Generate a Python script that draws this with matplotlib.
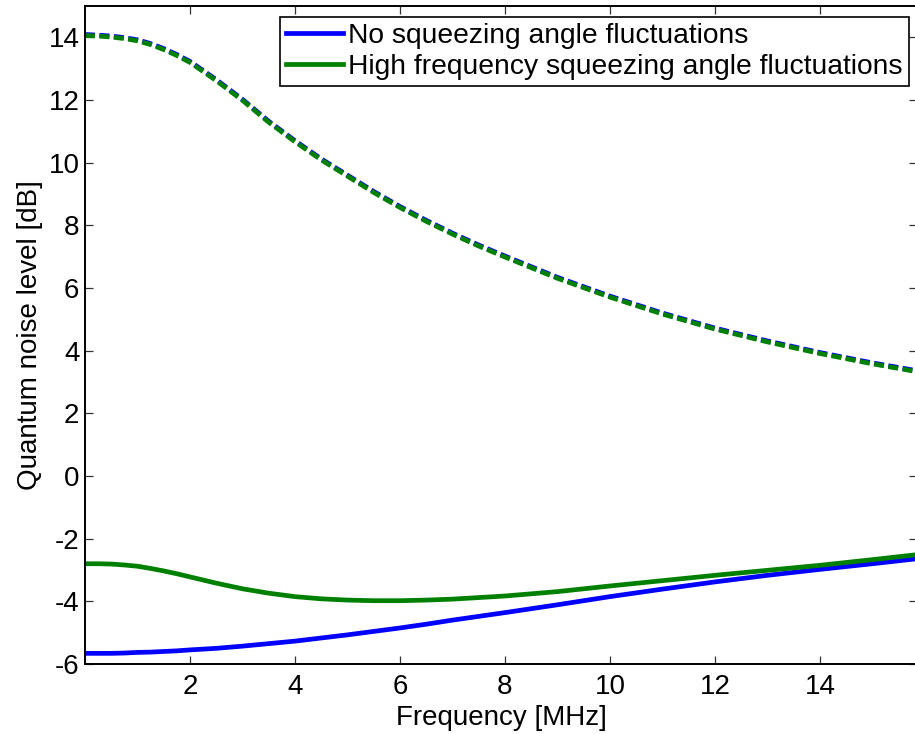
import matplotlib
matplotlib.use("Agg")
import matplotlib.pyplot as plt

plt.rcParams['font.family'] = ['Liberation Sans', 'DejaVu Sans']
plt.rcParams['axes.unicode_minus'] = False
plt.rcParams['lines.scale_dashes'] = False

# Frequency grid [MHz]
freq = [0, 0.25, 0.5, 0.75, 1, 1.25, 1.5, 1.75, 2, 2.5, 3, 3.5, 4, 4.5, 5, 5.5,
        6, 6.5, 7, 7.5, 8, 9, 10, 11, 12, 13, 14, 15, 15.85]

# Anti-squeezing levels [dB]
anti_no_fluct = [14.09, 14.07, 14.04, 13.99, 13.92, 13.80, 13.64, 13.45, 13.23,
                 12.65, 12.02, 11.32, 10.70, 10.12, 9.60, 9.08, 8.60, 8.16,
                 7.75, 7.37, 7.02, 6.34, 5.74, 5.20, 4.72, 4.31, 3.94, 3.61,
                 3.36]
anti_hf_fluct = [14.06, 14.04, 14.01, 13.96, 13.89, 13.77, 13.61, 13.42, 13.20,
                 12.62, 11.99, 11.29, 10.67, 10.09, 9.57, 9.05, 8.57, 8.13,
                 7.72, 7.34, 6.99, 6.31, 5.71, 5.17, 4.69, 4.28, 3.91, 3.58,
                 3.33]

# Squeezing levels [dB]
sqz_no_fluct = [-5.66, -5.66, -5.66, -5.65, -5.63, -5.62, -5.60, -5.58, -5.55,
                -5.50, -5.43, -5.35, -5.27, -5.17, -5.07, -4.96, -4.85, -4.73,
                -4.60, -4.48, -4.36, -4.11, -3.85, -3.61, -3.38, -3.17, -2.98,
                -2.80, -2.64]
sqz_hf_fluct = [-2.80, -2.80, -2.81, -2.84, -2.88, -2.95, -3.03, -3.12, -3.22,
                -3.42, -3.60, -3.74, -3.85, -3.92, -3.96, -3.98, -3.98, -3.96,
                -3.93, -3.88, -3.83, -3.69, -3.51, -3.34, -3.17, -3.01, -2.85,
                -2.67, -2.51]

labels = ['No squeezing angle fluctuations',
          'High frequency squeezing angle fluctuations']
xticks = [2, 4, 6, 8, 10, 12, 14]
yticks = [-6, -4, -2, 0, 2, 4, 6, 8, 10, 12, 14]

blue = (0, 0, 1)
green = (0, 0.5, 0)
lw = 3.4
dash = (7.2, 3.2)
fs = 20

fig = plt.figure(figsize=(9.15, 7.34), dpi=100)
ax = fig.add_axes([85 / 915, 70 / 734, 832 / 915, 658 / 734])

ax.plot(freq, anti_no_fluct, color=blue, lw=lw, dashes=dash)
ax.plot(freq, anti_hf_fluct, color=green, lw=lw, dashes=dash)
ax.plot(freq, sqz_no_fluct, color=blue, lw=lw, label=labels[0])
ax.plot(freq, sqz_hf_fluct, color=green, lw=lw, label=labels[1])

ax.set_xlim(0, 15.85)
ax.set_ylim(-6, 15)
ax.set_xticks(xticks)
ax.set_yticks(yticks)
ax.set_xticklabels([str(t) for t in xticks])
ax.set_yticklabels([str(t) for t in yticks])
ax.tick_params(direction='in', length=5.8, width=0.9, labelsize=fs,
               top=True, right=True, color='#333333')
ax.tick_params(axis='x', pad=7)
ax.tick_params(axis='y', pad=4)
for s in ax.spines.values():
    s.set_linewidth(1.4)

ax.set_xlabel('Frequency [MHz]', fontsize=fs, labelpad=4)
ax.set_ylabel('Quantum noise level [dB]', fontsize=fs, labelpad=4)

leg = ax.legend(loc='upper right', bbox_to_anchor=(909 / 915, 1 - 17 / 734),
                bbox_transform=fig.transFigure, fontsize=20.3,
                fancybox=False, framealpha=1, edgecolor='black',
                handlelength=2.0, handletextpad=0.2, borderpad=0.22,
                labelspacing=0.17, borderaxespad=0)
leg.get_frame().set_linewidth(1.2)
for h in leg.get_lines():
    h.set_linewidth(3.4)

fig.savefig('out.png', dpi=100)
